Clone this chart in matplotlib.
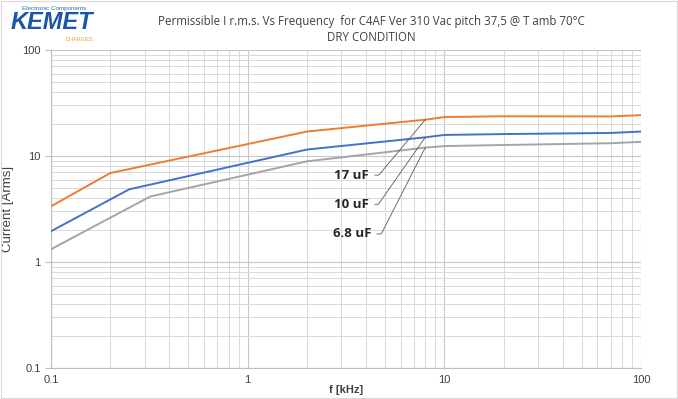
import matplotlib.pyplot as plt
from matplotlib.patches import Rectangle
from matplotlib.ticker import FuncFormatter, LogLocator, NullFormatter

# frequency [kHz] and permissible current [Arms]
freq_17 = [0.1, 0.2, 2, 8, 10, 20, 70, 100]
amps_17 = [3.35, 6.9, 17.0, 22.0, 23.3, 23.7, 23.6, 24.3]

freq_10 = [0.1, 0.25, 2, 8, 10, 20, 70, 100]
amps_10 = [1.95, 4.85, 11.5, 15.0, 15.8, 16.1, 16.5, 17.0]

freq_68 = [0.1, 0.32, 2, 8, 10, 20, 70, 100]
amps_68 = [1.32, 4.15, 8.9, 12.0, 12.4, 12.7, 13.2, 13.6]

labels = ["17 uF", "10 uF", "6.8 uF"]
label_pos = [(4.15, 6.6), (4.15, 3.5), (4.25, 1.84)]
label_angles = [50, 55, 63]

colors = ["#ED7D31", "#4472C4", "#A5A5A5"]

plt.rcParams['font.family'] = ['Liberation Sans', 'DejaVu Sans']

fig = plt.figure(figsize=(6.78, 3.99), dpi=100)
ax = fig.add_axes([0.0752, 0.0777, 0.8702, 0.797])

series = [(freq_17, amps_17), (freq_10, amps_10), (freq_68, amps_68)]
for (f, a), c in zip(series, colors):
    ax.plot(f, a, color=c, lw=1.4, solid_capstyle='round', zorder=3)

ax.set_xscale('log')
ax.set_yscale('log')
ax.set_xlim(0.1, 100)
ax.set_ylim(0.1, 100)

fmt = FuncFormatter(lambda v, p: f"{v:g}")
ax.xaxis.set_major_formatter(fmt)
ax.yaxis.set_major_formatter(fmt)
ax.xaxis.set_minor_locator(LogLocator(base=10, subs=range(2, 10)))
ax.yaxis.set_minor_locator(LogLocator(base=10, subs=range(2, 10)))
ax.xaxis.set_minor_formatter(NullFormatter())
ax.yaxis.set_minor_formatter(NullFormatter())

ax.grid(which='major', color='#c8c8c8', lw=0.8)
ax.grid(which='minor', color='#d9d9d9', lw=0.7)
ax.set_axisbelow(True)

for s in ['top', 'right']:
    ax.spines[s].set_visible(False)
for s in ['left', 'bottom']:
    ax.spines[s].set_color('#bfbfbf')
    ax.spines[s].set_linewidth(0.8)

ax.tick_params(axis='both', which='major', labelsize=8, colors='#bfbfbf',
               labelcolor='#404040', length=4, width=0.8)
ax.tick_params(axis='both', which='minor', length=0)
ax.tick_params(axis='x', length=0, pad=5)

ax.set_xlabel("f [kHz]", fontsize=8, fontweight='bold', color='#404040', labelpad=0)
ax.set_ylabel("Current [Arms]", fontsize=9.5, color='#404040', labelpad=6)

for (f, a), lab, pos, ang in zip(series, labels, label_pos, label_angles):
    y8 = a[f.index(8)]
    ax.annotate(lab, xy=(8, y8), xytext=pos, textcoords='data',
                ha='right', va='center', fontsize=9.5, fontweight='bold',
                fontfamily=['Open Sans', 'DejaVu Sans'], color='#262626',
                arrowprops=dict(arrowstyle='-', color='#595959', lw=0.6,
                                shrinkA=2, shrinkB=0, relpos=(1, 0.5),
                                connectionstyle=f"angle,angleA=0,angleB={ang},rad=0"))

fig.text(0.548, 0.945, "Permissible I r.m.s. Vs Frequency  for C4AF Ver 310 Vac pitch 37,5 @ T amb 70°C",
         ha='center', va='center', fontsize=8.3, color='#404040',
         fontfamily=['Open Sans', 'DejaVu Sans'])
fig.text(0.548, 0.907, "DRY CONDITION", ha='center', va='center', fontsize=8.3,
         color='#404040', fontfamily=['Open Sans', 'DejaVu Sans'])

# logo
fig.text(0.033, 0.978, "Electronic Components", fontsize=4.5, color='#2f6db5', va='center')
fig.text(0.016, 0.943, "KEMET", fontsize=17, color='#1a56a6', fontweight='bold',
         style='italic', va='center')
fig.text(0.118, 0.902, "CHARGED.", fontsize=4, color='#f0a030', va='center', ha='center')

fig.add_artist(Rectangle((0.001, 0.002), 0.997, 0.995, transform=fig.transFigure,
                         fill=False, edgecolor='#d9d9d9', lw=0.8))

fig.savefig("out.png", dpi=100)
